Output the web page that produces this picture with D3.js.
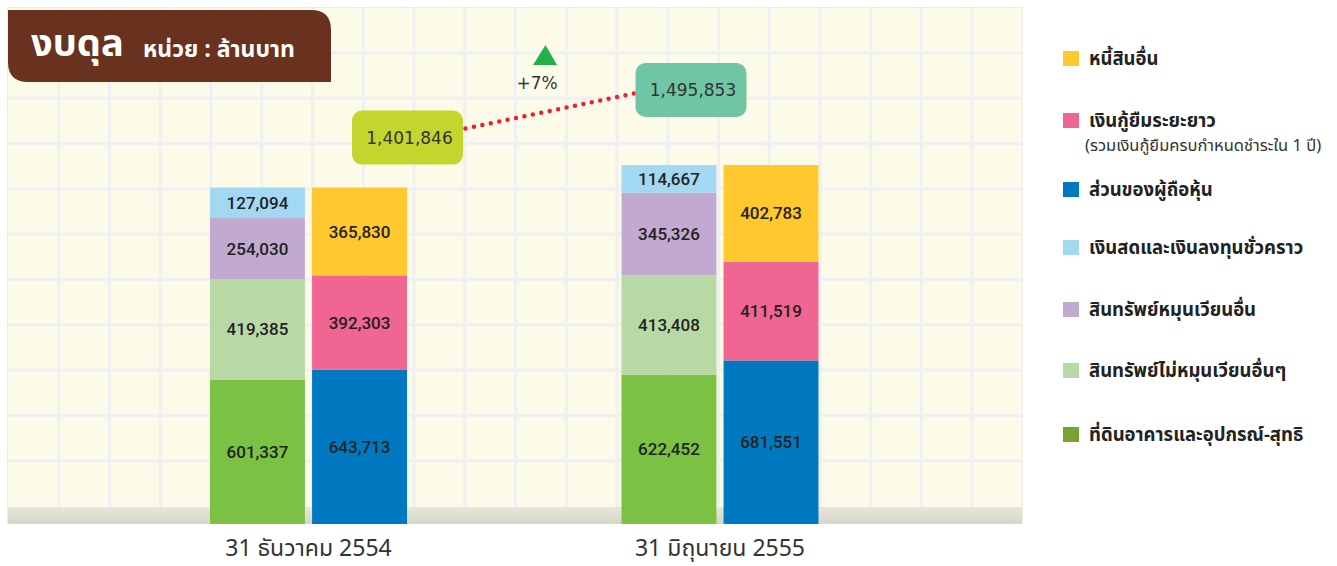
<!DOCTYPE html>
<meta charset="utf-8">
<style>
  body { margin: 0; background: #fff; }
  svg { display: block; }
</style>
<svg width="1337" height="566"></svg>
<script src="https://cdn.jsdelivr.net/npm/d3@7"></script>
<script>

    // values, million baht
    var periods = ['31 ธันวาคม 2554', '31 มิถุนายน 2555']
    var land = [601337, 622452]
    var nonCurrent = [419385, 413408]
    var otherCurrent = [254030, 345326]
    var cash = [127094, 114667]
    var equity = [643713, 681551]
    var loans = [392303, 411519]
    var otherLiab = [365830, 402783]
    var totals = [1401846, 1495853]
    var growth = '+7%'

    var legendNames = ['หนี้สินอื่น', 'เงินกู้ยืมระยะยาว', 'ส่วนของผู้ถือหุ้น', 'เงินสดและเงินลงทุนชั่วคราว',
        'สินทรัพย์หมุนเวียนอื่น', 'สินทรัพย์ไม่หมุนเวียนอื่นๆ', 'ที่ดินอาคารและอุปกรณ์-สุทธิ']
    var legendColors = ['#fec82e', '#f06592', '#0079c1', '#a3d8f3', '#c1a9d0', '#b8d9a6', '#78a330']

    var svg = d3.select('svg')
    var thai = "Tahoma, 'Noto Sans Thai', 'DejaVu Sans', sans-serif"

    // panel
    var panel = {x: 8, y: 8, w: 1014, h: 516}
    var defs = svg.append('defs')
    var grad = defs.append('linearGradient').attr('id', 'shade').attr('x1', 0).attr('y1', 0).attr('x2', 0).attr('y2', 1)
    grad.append('stop').attr('offset', 0).attr('stop-color', '#e6e6da')
    grad.append('stop').attr('offset', 1).attr('stop-color', '#d6d6c8')

    svg.append('rect').attr('x', panel.x - 1).attr('y', panel.y - 1).attr('width', panel.w + 2).attr('height', panel.h + 1)
        .attr('fill', '#ececec')
    svg.append('rect').attr('x', panel.x).attr('y', panel.y).attr('width', panel.w).attr('height', panel.h)
        .attr('fill', '#fcfbe9')

    var grid = svg.append('g').attr('class', 'grid').attr('stroke', '#eef0f2').attr('stroke-width', 3)
    grid.selectAll('line.v').data(d3.range(19)).enter().append('line').attr('class', 'v')
        .attr('x1', d => 58.75 + d * 50.75).attr('x2', d => 58.75 + d * 50.75)
        .attr('y1', panel.y).attr('y2', panel.y + panel.h)
    grid.selectAll('line.h').data(d3.range(10)).enter().append('line').attr('class', 'h')
        .attr('y1', d => 53 + d * 45.3).attr('y2', d => 53 + d * 45.3)
        .attr('x1', panel.x).attr('x2', panel.x + panel.w)
    svg.append('rect').attr('x', panel.x).attr('y', 507).attr('width', panel.w).attr('height', 17)
        .attr('fill', 'url(#shade)')

    // scales
    var x0 = d3.scalePoint().domain(periods).range([308.5, 720])
    var x1 = d3.scaleBand().domain(['assets', 'liab']).range([-98.5, 98.5]).paddingInner(0.07)
    var y = d3.scaleLinear().domain([0, 1600000]).range([524, 140])

    var bars = []
    periods.forEach(function (p, i) {
        var left = [[land[i], '#7bc143'], [nonCurrent[i], '#b8d9a6'], [otherCurrent[i], '#c1a9d0'], [cash[i], '#a3d8f3']]
        var right = [[equity[i], '#0079c1'], [loans[i], '#f06592'], [otherLiab[i], '#fec82e']]
        ;[['assets', left], ['liab', right]].forEach(function (side) {
            var acc = 0
            side[1].forEach(function (s) {
                bars.push({period: p, side: side[0], v0: acc, v1: acc + s[0], value: s[0], color: s[1]})
                acc += s[0]
            })
        })
    })

    var barG = svg.append('g').attr('class', 'bars')
    barG.selectAll('rect').data(bars).enter().append('rect')
        .attr('x', d => x0(d.period) + x1(d.side))
        .attr('width', x1.bandwidth())
        .attr('y', d => y(d.v1))
        .attr('height', d => y(d.v0) - y(d.v1))
        .attr('fill', d => d.color)
    barG.selectAll('text').data(bars).enter().append('text')
        .attr('x', d => x0(d.period) + x1(d.side) + x1.bandwidth() / 2)
        .attr('y', d => (y(d.v0) + y(d.v1)) / 2)
        .attr('dy', '0.36em')
        .attr('text-anchor', 'middle')
        .attr('font-family', 'Roboto, sans-serif')
        .attr('font-weight', 500)
        .attr('font-size', 17)
        .attr('fill', '#222')
        .text(d => d3.format(',')(d.value))

    // period labels
    svg.append('g').selectAll('text').data(periods).enter().append('text')
        .attr('x', d => x0(d)).attr('y', 556)
        .attr('text-anchor', 'middle')
        .attr('font-family', thai).attr('font-size', 23).attr('fill', '#333')
        .text(d => d)

    // total callouts
    var c1 = {x: x0(periods[0]) + 99, y: y(totals[0]) - 50, fill: '#c2d62d'}
    var c2 = {x: x0(periods[1]) - 29, y: y(totals[1]) - 75, fill: '#70c6a4'}
    svg.append('line')
        .attr('x1', c1.x + 58).attr('y1', c1.y - 9)
        .attr('x2', c2.x - 55).attr('y2', c2.y + 3)
        .attr('stroke', '#ee2030').attr('stroke-width', 4.5)
        .attr('stroke-linecap', 'round').attr('stroke-dasharray', '0 8.6')
    ;[c1, c2].forEach(function (c, i) {
        svg.append('rect').attr('x', c.x - 55.5).attr('y', c.y - 27).attr('width', 111).attr('height', 54)
            .attr('rx', 10).attr('fill', c.fill)
        svg.append('text').attr('x', c.x + 2).attr('y', c.y).attr('dy', '0.36em')
            .attr('text-anchor', 'middle').attr('font-family', 'DejaVu Sans, sans-serif')
            .attr('font-size', 17).attr('fill', '#333')
            .text(d3.format(',')(totals[i]))
    })
    svg.append('path').attr('d', 'M545.5,45 L557,65 L533,65 Z').attr('fill', '#22b24c')
    svg.append('text').attr('x', 537).attr('y', 89).attr('text-anchor', 'middle')
        .attr('font-family', 'DejaVu Sans, sans-serif').attr('font-size', 17).attr('fill', '#333')
        .text(growth)

    // title tab
    svg.append('path')
        .attr('d', 'M8,10 L311,10 Q331,10 331,30 L331,82 L28,82 Q8,82 8,62 Z')
        .attr('fill', '#68321f')
    svg.append('text').attr('x', 31).attr('y', 56).attr('font-family', thai)
        .attr('font-weight', 'bold').attr('font-size', 38).attr('fill', '#fff').text('งบดุล')
    svg.append('text').attr('x', 143).attr('y', 57).attr('font-family', thai)
        .attr('font-weight', 'bold').attr('font-size', 23).attr('fill', '#fff').text('หน่วย : ล้านบาท')

    // legend
    var legendY = [58.5, 120.5, 189.5, 247.5, 309.5, 370.5, 434.5]
    var lg = svg.append('g').attr('class', 'legend')
    var items = lg.selectAll('g').data(legendNames).enter().append('g')
        .attr('transform', (d, i) => 'translate(1063,' + legendY[i] + ')')
    items.append('rect').attr('x', 0).attr('y', -7.5).attr('width', 16).attr('height', 15)
        .attr('fill', (d, i) => legendColors[i])
    items.append('text').attr('x', 26).attr('dy', '0.36em')
        .attr('font-family', thai).attr('font-weight', 'bold').attr('font-size', 18.5).attr('fill', '#222')
        .text(d => d)
    lg.append('text').attr('x', 1085).attr('y', 151)
        .attr('font-family', thai).attr('font-size', 16.5).attr('fill', '#333')
        .text('(รวมเงินกู้ยืมครบกำหนดชำระใน 1 ปี)')

</script>
